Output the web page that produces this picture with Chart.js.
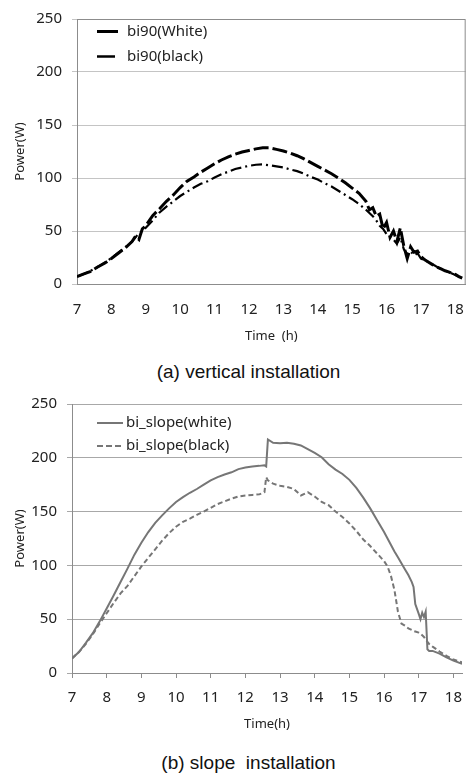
<!DOCTYPE html>
<html>
<head>
<meta charset="utf-8">
<script src="https://cdn.jsdelivr.net/npm/chart.js@4.4.1/dist/chart.umd.min.js"></script>
<style>
  body { margin: 0; background: #fff; width: 473px; height: 775px; position: relative; overflow: hidden; }
  .box { position: absolute; left: 0; width: 473px; }
  .caption { position: absolute; left: 0; width: 497px; text-align: center; white-space: pre;
    font-family: "Liberation Sans", Arial, sans-serif; font-size: 19px; line-height: 22px; color: #111; }
</style>
</head>
<body>
<div class="box" style="top:0;height:350px"><canvas id="chartA" width="473" height="350"></canvas></div>
<div class="caption" style="top:361px">(a) vertical installation</div>
<div class="box" style="top:385px;height:355px"><canvas id="chartB" width="473" height="355"></canvas></div>
<div class="caption" style="top:752px">(b) slope  installation</div>
<script>
// (a) vertical installation
const timeA = [7.0, 7.2, 7.4, 7.6, 7.8, 8.0, 8.2, 8.4, 8.6, 8.7, 8.8, 8.9, 9.0, 9.2, 9.4, 9.6, 9.8,
  10.0, 10.2, 10.4, 10.6, 10.8, 11.0, 11.2, 11.4, 11.6, 11.8, 12.0, 12.2, 12.4, 12.6, 12.8,
  13.0, 13.2, 13.4, 13.6, 13.8, 14.0, 14.2, 14.4, 14.6, 14.8, 15.0, 15.2, 15.4, 15.5, 15.6,
  15.7, 15.8, 15.9, 16.0, 16.1, 16.2, 16.3, 16.4, 16.5, 16.6, 16.7, 16.8, 16.9, 17.0, 17.1,
  17.2, 17.3, 17.4, 17.5, 17.6, 17.7, 17.8, 17.9, 18.0, 18.1, 18.2];
const whiteA = [7, 9.5, 12, 16, 19.5, 24, 29, 34, 40, 45, 42, 52, 55, 64.5, 71, 78, 84,
  91, 97, 101, 105.5, 109.5, 113.5, 117, 120, 122.5, 124.5, 126, 127.5, 128.5, 128.5, 127,
  125.5, 123.5, 121, 118, 114.5, 111, 107.5, 104, 100, 95.5, 90.5, 85.5, 78, 70, 72,
  64, 66, 52, 58, 44, 50, 40, 53, 36, 24, 35, 30, 31, 26, 23,
  21, 19, 17, 15.5, 14, 12.5, 11.5, 10, 9, 7, 5.5];
const blackA = [7, 9.5, 12.5, 16, 20, 24.5, 29.5, 34.5, 40, 44, 48, 50, 53, 60, 67.5, 73, 78,
  83, 87, 91, 94.5, 97, 100.5, 103.5, 106, 108.5, 110, 111.5, 112.5, 112.8, 112, 111,
  110, 108, 106.5, 104, 101, 98.5, 95, 92, 88, 84, 80, 75.5, 70, 67, 64,
  60, 55, 52, 47, 45, 42, 38, 44, 33, 28, 31, 27, 29, 24, 22.5,
  21, 19, 17.5, 15.5, 14, 12.5, 11.5, 10, 8.5, 7, 6];

// (b) slope installation
const timeB = [7.0, 7.2, 7.4, 7.6, 7.8, 8.0, 8.2, 8.4, 8.6, 8.8, 9.0, 9.2, 9.4, 9.6, 9.8,
  10.0, 10.2, 10.4, 10.6, 10.8, 11.0, 11.2, 11.4, 11.6, 11.8, 12.0, 12.2, 12.4, 12.55, 12.6,
  12.65, 12.8, 13.0, 13.2, 13.4, 13.6, 13.8, 14.0, 14.2, 14.4, 14.6, 14.8, 15.0, 15.2, 15.4,
  15.6, 15.8, 16.0, 16.1, 16.2, 16.3, 16.4, 16.5, 16.6, 16.7, 16.8, 16.85, 16.9, 17.0, 17.05,
  17.1, 17.15, 17.2, 17.25, 17.3, 17.4, 17.6, 17.8, 18.0, 18.25];
const whiteB = [13.5, 19.5, 28, 37, 48, 60, 72, 84.5, 97, 110, 121, 131, 139.5, 146.5, 153,
  159, 163.5, 167.5, 171, 175, 179, 182, 184.5, 186.5, 189.5, 191, 192, 192.5, 193, 192,
  217, 214, 213.5, 214, 213, 211.5, 208, 204.5, 200.5, 194, 189, 185, 179.5, 172, 163,
  153, 142, 131, 125, 119, 113, 107.5, 102, 96.5, 91, 84.5, 80, 64, 55, 50,
  56, 52, 57, 22, 20.5, 20.5, 18, 14.5, 11.5, 8.5];
const blackB = [13.5, 19.5, 27, 36, 46, 55.5, 65, 74, 81, 90, 99, 107, 115, 123, 130,
  136, 140.5, 143.5, 147, 150, 153.5, 157, 159.5, 162, 164, 165, 165.5, 166, 168, 182,
  179, 176, 174, 173, 171, 165, 168, 164, 159, 156, 150, 145, 139, 132, 124,
  118, 111, 104, 99, 90, 77, 57, 46, 44, 41.5, 40, 39, 38.5, 37.5, 36.5,
  35, 33.5, 31, 29, 27, 24.5, 20, 16, 12.5, 10];

const yTicks = [0, 50, 100, 150, 200, 250];
const xTicks = [7, 8, 9, 10, 11, 12, 13, 14, 15, 16, 17, 18];

const pts = (ts, vs) => ts.map((t, i) => ({ x: t, y: vs[i] }));
const tickFont = { family: 'Noto Sans', size: 15 };
const textColor = '#222';

// legend drawn inside the plot area, stacked
const inLegend = {
  id: 'inLegend',
  afterDraw(chart, args, opts) {
    const { ctx, chartArea } = chart;
    ctx.save();
    chart.data.datasets.forEach((ds, i) => {
      const y = chartArea.top + opts.y0 + i * opts.gap;
      const x = chartArea.left + opts.x0;
      ctx.strokeStyle = ds.borderColor;
      ctx.lineWidth = opts.widths[i];
      ctx.setLineDash(opts.dashes[i]);
      ctx.beginPath();
      ctx.moveTo(x, y);
      ctx.lineTo(x + opts.lens[i], y);
      ctx.stroke();
      ctx.setLineDash([]);
      ctx.fillStyle = textColor;
      ctx.font = opts.font;
      ctx.textBaseline = 'middle';
      ctx.fillText(ds.label, chartArea.left + opts.textX, y);
    });
    ctx.restore();
  }
};

// top + right border of plot area
const frame = {
  id: 'frame',
  beforeDatasetsDraw(chart, args, opts) {
    if (!opts.color) return;
    const { ctx, chartArea: a } = chart;
    ctx.save();
    ctx.strokeStyle = opts.color;
    ctx.lineWidth = 1;
    ctx.beginPath();
    ctx.moveTo(a.left, a.top + 0.5);
    ctx.lineTo(a.right - 0.5, a.top + 0.5);
    ctx.lineTo(a.right - 0.5, a.bottom);
    ctx.stroke();
    ctx.restore();
  }
};

new Chart(document.getElementById('chartA'), {
  type: 'line',
  data: {
    datasets: [
      { label: 'bi90(White)', data: pts(timeA, whiteA), borderColor: '#000', borderWidth: 3,
        borderDash: [15, 4], pointRadius: 0, tension: 0 },
      { label: 'bi90(black)', data: pts(timeA, blackA), borderColor: '#000', borderWidth: 2.2,
        borderDash: [11, 4, 2, 4], pointRadius: 0, tension: 0 }
    ]
  },
  plugins: [inLegend, frame],
  options: {
    responsive: false,
    animation: false,
    devicePixelRatio: 1,
    layout: { padding: { left: 0, top: 14, right: 2, bottom: 0 } },
    plugins: {
      legend: { display: false },
      tooltip: { enabled: false },
      inLegend: { x0: 20, lens: [21, 18], widths: [3, 2.5], dashes: [[], []], textX: 50, y0: 12.5, gap: 25,
        font: '15px "Noto Sans"' },
      frame: { color: '#8c8c8c' }
    },
    scales: {
      x: {
        type: 'linear', min: 7, max: 18.3,
        afterFit: s => { s.height = 66; },
        afterBuildTicks: s => { s.ticks = xTicks.map(v => ({ value: v })); },
        grid: { display: false },
        border: { color: '#8c8c8c' },
        ticks: { font: tickFont, color: textColor, padding: 9, maxRotation: 0 },
        title: { display: true, text: 'Time  (h)', font: { family: 'Noto Sans', size: 13 }, color: textColor,
          padding: { top: 0, bottom: 6 } }
      },
      y: {
        min: 0, max: 250,
        afterFit: s => { s.width = 77; },
        afterBuildTicks: s => { s.ticks = yTicks.map(v => ({ value: v })); },
        grid: { color: '#c4c4c4', tickLength: 5 },
        border: { color: '#8c8c8c' },
        ticks: { font: tickFont, color: textColor, padding: 10 },
        title: { display: true, text: 'Power(W)', font: { family: 'Noto Sans', size: 13 }, color: textColor,
          padding: { top: 12, bottom: 0 } }
      }
    }
  }
});

new Chart(document.getElementById('chartB'), {
  type: 'line',
  data: {
    datasets: [
      { label: 'bi_slope(white)', data: pts(timeB, whiteB), borderColor: '#767676', borderWidth: 2,
        pointRadius: 0, tension: 0 },
      { label: 'bi_slope(black)', data: pts(timeB, blackB), borderColor: '#767676', borderWidth: 2,
        borderDash: [5, 3], pointRadius: 0, tension: 0 }
    ]
  },
  plugins: [inLegend],
  options: {
    responsive: false,
    animation: false,
    devicePixelRatio: 1,
    layout: { padding: { left: 0, top: 16, right: 0, bottom: 0 } },
    plugins: {
      legend: { display: false },
      tooltip: { enabled: false },
      inLegend: { x0: 25, lens: [26, 26], widths: [2, 2], dashes: [[], [6, 3]], textX: 54, y0: 19, gap: 23,
        font: '15px "Noto Sans"' },
      frame: {}
    },
    scales: {
      x: {
        type: 'linear', min: 7, max: 18.25,
        afterFit: s => { s.height = 67; },
        afterBuildTicks: s => { s.ticks = xTicks.map(v => ({ value: v })); },
        grid: { drawOnChartArea: false, tickLength: 5, color: '#8c8c8c' },
        border: { color: '#8c8c8c' },
        ticks: { font: tickFont, color: textColor, padding: 11, maxRotation: 0 },
        title: { display: true, text: 'Time(h)', font: { family: 'Noto Sans', size: 13 }, color: textColor,
          padding: { top: 0, bottom: 8 } }
      },
      y: {
        min: 0, max: 250,
        afterFit: s => { s.width = 72; },
        afterBuildTicks: s => { s.ticks = yTicks.map(v => ({ value: v })); },
        grid: { color: '#a8a8a8', tickLength: 5 },
        border: { color: '#8c8c8c' },
        ticks: { font: tickFont, color: textColor, padding: 10 },
        title: { display: true, text: 'Power(W)', font: { family: 'Noto Sans', size: 13 }, color: textColor,
          padding: { top: 12, bottom: 0 } }
      }
    }
  }
});
</script>
</body>
</html>
